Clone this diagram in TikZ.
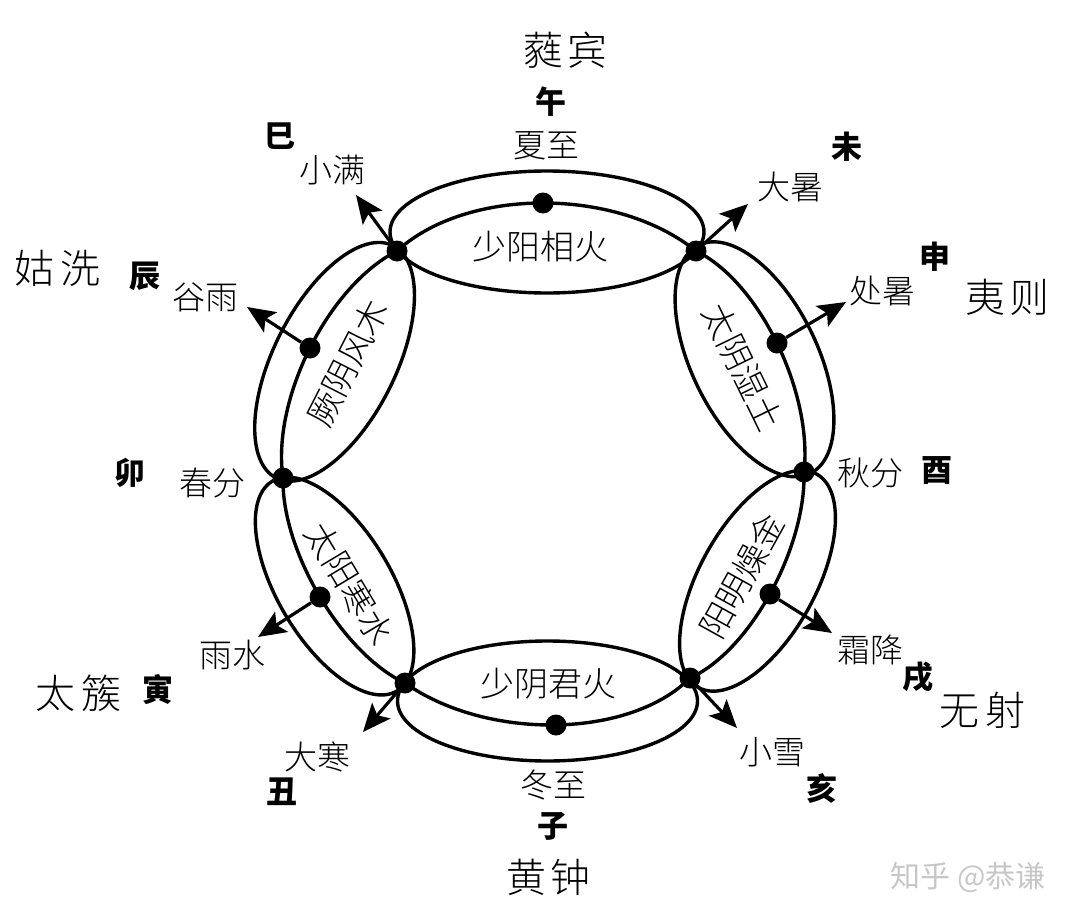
\documentclass[tikz,border=0pt]{standalone}
\usepackage{fontspec}
\newfontfamily\cjk{Noto Sans CJK SC}
\newfontfamily\cjklight{Noto Sans CJK SC Light}
\usetikzlibrary{calc,arrows.meta}
\newcommand\lensarc[3]{\draw[ring] (#1) .. controls ($(#1)!0.25!(#2) + 1.3333*(#3) - 0.6667*(#1) - 0.6667*(#2)$) and ($(#2)!0.25!(#1) + 1.3333*(#3) - 0.6667*(#1) - 0.6667*(#2)$) .. (#2);}
\begin{document}
\begin{tikzpicture}[x=1pt,y=-1pt,
  ring/.style={line width=3.4pt},
  dotnode/.style={circle, fill=black, inner sep=0pt, minimum size=21pt},
  arr/.style={line width=3.2pt, -{Stealth[length=28pt,width=24pt,inset=6pt]}},
  term/.style={font=\cjklight\fontsize{33}{36}\selectfont},
  branch/.style={font=\cjk\bfseries\fontsize{31}{34}\selectfont},
  lu/.style={font=\cjklight\fontsize{40}{44}\selectfont},
  qi/.style={font=\cjklight\fontsize{34}{38}\selectfont},
  wmark/.style={font=\cjk\fontsize{30}{34}\selectfont, text=black!22}]
\useasboundingbox (0,0) rectangle (1080,921);
% vertices
\coordinate (V1) at (397,251);
\coordinate (V2) at (696,251);
\coordinate (V3) at (804,472);
\coordinate (V4) at (690,678);
\coordinate (V5) at (405,683);
\coordinate (V6) at (283,478);
% midpoints
\coordinate (M1) at (543,203);
\coordinate (M2) at (777,343);
\coordinate (M3) at (770,594);
\coordinate (M4) at (556,725);
\coordinate (M5) at (320,597);
\coordinate (M6) at (310,348);
% ellipse centres
\coordinate (E1) at (547,232);
\coordinate (E2) at (754.5,359.3);
\coordinate (E3) at (757.5,580.8);
\coordinate (E4) at (547.5,701);
\coordinate (E5) at (334.6,586.1);
\coordinate (E6) at (334.6,361.8);
% arrow tips
\coordinate (T1) at (356,195);
\coordinate (T2) at (748,204);
\coordinate (T3) at (846,302);
\coordinate (T4) at (247,307);
\coordinate (T5) at (258,637);
\coordinate (T6) at (363,732);
\coordinate (T7) at (832,633);
\coordinate (T8) at (737,728);
% ellipses
\draw[ring] (E1) ellipse [x radius=157, y radius=61];
\draw[ring, rotate around={-64:(E2)}] (E2) ellipse [x radius=127, y radius=63];
\draw[ring, rotate around={61:(E3)}] (E3) ellipse [x radius=122, y radius=58];
\draw[ring] (E4) ellipse [x radius=150, y radius=60];
\draw[ring, rotate around={-59.3:(E5)}] (E5) ellipse [x radius=122, y radius=57];
\draw[ring, rotate around={63.3:(E6)}] (E6) ellipse [x radius=130, y radius=61];
% inner arcs
\lensarc{V1}{V2}{M1}
\lensarc{V2}{V3}{M2}
\lensarc{V3}{V4}{M3}
\lensarc{V4}{V5}{M4}
\lensarc{V5}{V6}{M5}
\lensarc{V6}{V1}{M6}
% dots
\foreach \p in {V1,V2,V3,V4,V5,V6,M1,M2,M3,M4,M5,M6}
  \node[dotnode] (d\p) at (\p) {};
% arrows
\draw[arr] (dV1) -- (T1);
\draw[arr] (dV2) -- (T2);
\draw[arr] (dM2) -- (T3);
\draw[arr] (dM6) -- (T4);
\draw[arr] (dM5) -- (T5);
\draw[arr] (dV5) -- (T6);
\draw[arr] (dM3) -- (T7);
\draw[arr] (dV4) -- (T8);
% qi names
\node[qi] (q1) at (540,247) {少阳相火};
\node[qi, rotate=-64] (q2) at (743,367) {太阴湿土};
\node[qi, rotate=61] (q3) at (742,576) {阳明燥金};
\node[qi] (q4) at (548,684) {少阴君火};
\node[qi, rotate=-59] (q5) at (350,584) {太阳寒水};
\node[qi, rotate=63] (q6) at (348,363) {厥阴风木};
% pitch names
\node[lu] (l1) at (565,50) {蕤\hspace{4pt}宾};
\node[lu] (l2) at (58,268) {姑\hspace{6pt}洗};
\node[lu] (l3) at (1007,297) {夷\hspace{4pt}则};
\node[lu] (l4) at (78,693) {太\hspace{6pt}簇};
\node[lu] (l5) at (982,710) {无\hspace{6pt}射};
\node[lu] (l6) at (548,877) {黄\hspace{4pt}钟};
% branches
\node[branch] (b1) at (551,102) {午};
\node[branch] (b2) at (280,136) {巳};
\node[branch] (b3) at (145,276) {辰};
\node[branch] (b4) at (130,473) {卯};
\node[branch] (b5) at (158,690) {寅};
\node[branch] (b6) at (282,792) {丑};
\node[branch] (b7) at (553,826) {子};
\node[branch] (b8) at (822,788) {亥};
\node[branch] (b9) at (918,677) {戌};
\node[branch] (b10) at (937,470) {酉};
\node[branch] (b11) at (935,257) {申};
\node[branch] (b12) at (847,147) {未};
% solar terms
\node[term] (s1) at (546,146) {夏至};
\node[term] (s2) at (332,170) {小满};
\node[term] (s3) at (205,297) {谷雨};
\node[term] (s4) at (212,483) {春分};
\node[term] (s5) at (232,655) {雨水};
\node[term] (s6) at (317,757) {大寒};
\node[term] (s7) at (553,785) {冬至};
\node[term] (s8) at (772,752) {小雪};
\node[term] (s9) at (870,650) {霜降};
\node[term] (s10) at (870,473) {秋分};
\node[term] (s11) at (882,291) {处暑};
\node[term] (s12) at (790,187) {大暑};
% watermark
\node[wmark] (wm) at (968,877) {知乎 @恭谦};
\end{tikzpicture}
\end{document}
